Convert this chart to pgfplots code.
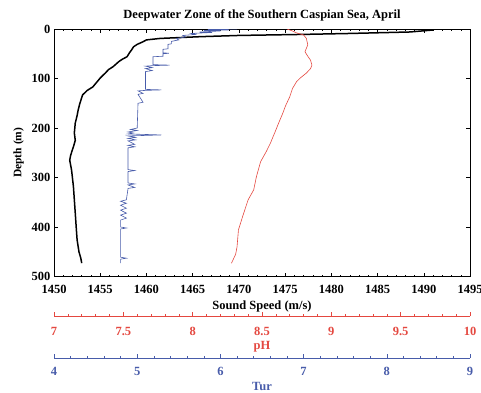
\documentclass[border=0pt]{standalone}
\usepackage{pgfplots}
\pgfplotsset{compat=1.18}
\usepackage{fontspec}
\setmainfont{Liberation Serif}
\definecolor{phred}{RGB}{228,72,64}
\definecolor{turblue}{RGB}{72,92,170}
\newcommand{\fs}[1]{\fontsize{#1}{#1}\selectfont\bfseries}
\begin{document}
\begin{tikzpicture}
\useasboundingbox (-54pt,-115.5pt) rectangle (427pt,276.5pt);
\pgfplotsset{
  base/.style={scale only axis, width=416pt, height=247.5pt, at={(0,0)}, anchor=south west,
    ymin=0, ymax=500, y dir=reverse},
}
\begin{axis}[base,
  xmin=1450, xmax=1495,
  xtick={1450,1455,...,1495}, minor x tick num=4,
  ytick={0,100,...,500},
  tick align=inside, major tick length=4pt, minor tick length=2pt,
  axis line style={line width=0.8pt},
  every tick/.style={black, line width=0.5pt},
  /pgf/number format/assume math mode=true,
  /pgf/number format/1000 sep={},
  tick label style={font=\fs{12.5}},
  xticklabel style={yshift=-5pt},
  xlabel={Sound Speed (m/s)}, xlabel style={font=\fs{12.5}, yshift=0pt},
  ylabel={Depth (m)}, ylabel style={font=\fs{11.5}, yshift=1pt},
  title={Deepwater Zone of the Southern Caspian Sea, April},
  title style={font=\fs{12.5}, yshift=-2pt},
]
\addplot[black, line width=1.5pt] coordinates {
(1490.0,0) (1491.0,2) (1488.5,6) (1482.0,9) (1476.6,11) (1470.0,13) (1465.8,15.5) (1461.5,19) (1460.0,22)
(1459.6,26) (1459.0,31) (1458.6,36) (1458.4,42) (1458.2,47) (1457.9,56) (1457.4,61) (1457.0,66)
(1456.4,76) (1455.9,82) (1455.6,88) (1455.0,99) (1454.6,108) (1454.2,117) (1453.6,124) (1453.1,133)
(1452.8,150) (1452.6,165) (1452.5,175) (1452.3,190) (1452.2,210) (1452.3,225) (1452.1,238) (1451.8,255)
(1451.7,265) (1451.9,285) (1452.1,318) (1452.2,345) (1452.3,372) (1452.4,400) (1452.5,426) (1452.7,450)
(1452.9,463) (1453.0,473)
};
\end{axis}
\begin{axis}[base, hide axis, xmin=7, xmax=10]
\addplot[phred, line width=0.6pt] coordinates {
(8.68,0) (8.72,4) (8.75,8) (8.80,12) (8.82,19) (8.83,32) (8.81,46) (8.83,55) (8.85,63) (8.86,73)
(8.85,80) (8.82,89) (8.78,98) (8.75,106) (8.72,120) (8.70,137) (8.67,155) (8.65,170) (8.62,190)
(8.60,204) (8.56,231) (8.53,248) (8.49,268) (8.46,298) (8.44,325) (8.40,345) (8.38,362) (8.36,379)
(8.33,406) (8.32,440) (8.31,455) (8.28,473)
};
\end{axis}
\begin{axis}[base, hide axis, xmin=4, xmax=9]
\addplot[turblue, line width=0.6pt] coordinates {
(6.20,0) (5.85,1) (6.10,2) (5.80,3) (6.00,4) (5.75,6) (5.90,7) (5.65,9) (5.70,11) (5.55,13) (5.58,16)
(5.47,19) (5.50,22) (5.41,25) (5.41,30) (5.37,31) (5.37,40) (5.31,41) (5.31,48) (5.38,49) (5.31,50)
(5.31,55) (5.19,56) (5.19,72) (5.39,73) (5.19,74) (5.10,75) (5.18,78) (5.10,80) (5.18,84) (5.10,86)
(5.10,122) (5.29,123) (5.10,124) (5.01,125) (5.07,130) (5.01,132) (5.07,148) (5.01,150) (5.00,200)
(4.92,203) (5.00,205) (4.89,208) (4.95,210) (4.89,212) (5.29,214) (4.89,216) (4.98,219) (4.89,221)
(4.98,224) (4.89,226) (4.97,233) (4.89,235) (4.97,238) (4.89,240) (4.89,284) (4.97,286) (4.89,288)
(4.89,311) (4.97,313) (4.89,315) (4.97,320) (4.89,322) (4.87,345) (4.80,348) (4.87,352) (4.80,356)
(4.87,362) (4.80,366) (4.87,372) (4.80,376) (4.87,382) (4.80,386) (4.80,400) (4.87,402) (4.80,404)
(4.80,461) (4.87,463) (4.80,465) (4.80,473)
};
\end{axis}
% pH scale
\begin{axis}[scale only axis, width=416pt, height=10pt, at={(0,-39.5pt)}, anchor=south west,
  xmin=7, xmax=10, ymin=0, ymax=1,
  axis x line=bottom, axis y line=none, axis line style={-, phred, line width=0.5pt},
  xtick={7,7.5,...,10}, minor x tick num=4,
  tick align=inside, major tick length=4pt, minor tick length=2pt,
  every tick/.style={phred, line width=0.5pt},
  /pgf/number format/assume math mode=true,
  xticklabel style={font=\fs{12.5}, text=phred, yshift=-8pt},
  xticklabel={\pgfmathprintnumber[fixed, precision=1]{\tick}},
  xlabel={pH}, xlabel style={font=\fs{12.5}, text=phred, yshift=2pt},
]
\end{axis}
% Tur scale
\begin{axis}[scale only axis, width=416pt, height=10pt, at={(0,-81.5pt)}, anchor=south west,
  xmin=4, xmax=9, ymin=0, ymax=1,
  axis x line=bottom, axis y line=none, axis line style={-, turblue, line width=0.5pt},
  xtick={4,5,...,9}, minor x tick num=4,
  tick align=inside, major tick length=4pt, minor tick length=2pt,
  every tick/.style={turblue, line width=0.5pt},
  /pgf/number format/assume math mode=true,
  xticklabel style={font=\fs{12.5}, text=turblue, yshift=-6pt},
  xlabel={Tur}, xlabel style={font=\fs{12.5}, text=turblue, yshift=1pt},
]
\end{axis}
\end{tikzpicture}
\end{document}
